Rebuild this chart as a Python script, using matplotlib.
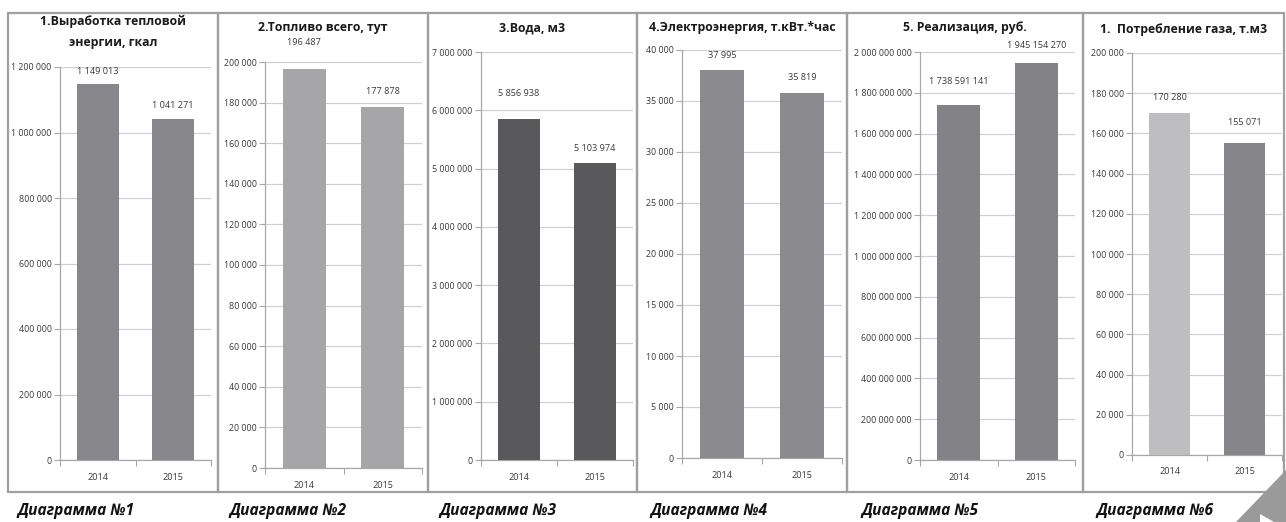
import matplotlib
matplotlib.use('Agg')
import matplotlib.pyplot as plt
from matplotlib.patches import Rectangle, Polygon
from matplotlib.ticker import FuncFormatter, MultipleLocator

plt.rcParams['font.family'] = ['Open Sans', 'DejaVu Sans']

years = ['2014', '2015']

titles = ['1.Выработка тепловой\nэнергии, гкал',
          '2.Топливо всего, тут',
          '3.Вода, м3',
          '4.Электроэнергия, т.кВт.*час',
          '5. Реализация, руб.',
          '1.  Потребление газа, т.м3']

heat = [1149013, 1041271]
fuel = [196487, 177878]
water = [5856938, 5103974]
power = [37995, 35819]
sales = [1738591141, 1945154270]
gas = [170280, 155071]
series = [heat, fuel, water, power, sales, gas]

y_max = [1200000, 200000, 7000000, 40000, 2000000000, 200000]
y_step = [200000, 20000, 1000000, 5000, 200000000, 20000]

bar_colors = [['#87878b'] * 2, ['#a6a6a9'] * 2, ['#59595b'] * 2,
              ['#8b8b8f'] * 2, ['#838387'] * 2, ['#bebec1', '#86868a']]

# distance of value label above the bar, px
label_gap = [[8, 9], [22, 11], [21, 10], [10, 11], [19, 13], [11, 16]]

captions = ['Диаграмма №1', 'Диаграмма №2', 'Диаграмма №3',
            'Диаграмма №4', 'Диаграмма №5', 'Диаграмма №6']

W, H = 1286, 522

# layout in pixels: (axis left, axis right, top gridline y, zero y)
axes_px = [(60, 211, 67, 460), (265, 422, 62, 468), (481, 633, 52, 460),
           (682, 842, 50, 458), (920, 1075, 52, 460), (1132, 1282, 53, 455)]
boxes_px = [(8, 218), (218, 428), (428, 637), (637, 847), (847, 1083), (1083, 1284)]
title_y = [32, 28, 28, 28, 28, 30]
caption_x = [76, 288, 498, 709, 920, 1155]

fig = plt.figure(figsize=(W / 100, H / 100), dpi=100)


def fmt(v, pos):
    return f'{int(v):,}'.replace(',', ' ')


for i in range(6):
    x0, x1, yt, y0 = axes_px[i]
    ax = fig.add_axes([x0 / W, (H - y0) / H, (x1 - x0) / W, (y0 - yt) / H])
    ax.bar([0, 1], series[i], width=0.55, color=bar_colors[i], zorder=3)
    ax.set_xlim(-0.5, 1.5)
    ax.set_ylim(0, y_max[i])
    ax.yaxis.set_major_locator(MultipleLocator(y_step[i]))
    ax.yaxis.set_major_formatter(FuncFormatter(fmt))
    ax.grid(axis='y', color='#d0d0d0', linewidth=0.9, zorder=0)
    for s in ['top', 'right']:
        ax.spines[s].set_visible(False)
    for s in ['left', 'bottom']:
        ax.spines[s].set_color('#a8a8a8')
        ax.spines[s].set_linewidth(0.9)
    ax.set_xticks([-0.5, 0.5, 1.5])
    ax.set_xticklabels([])
    ax.set_xticks([0, 1], minor=True)
    ax.set_xticklabels(years, minor=True)
    ax.tick_params(axis='x', which='major', length=4, color='#a8a8a8', direction='out')
    ax.tick_params(axis='x', which='minor', length=0, pad=9, labelsize=6.6, labelcolor='#3a3a3a')
    ax.tick_params(axis='y', length=4, color='#a8a8a8', labelsize=6.4, labelcolor='#3a3a3a', pad=2)
    for j, v in enumerate(series[i]):
        ax.annotate(fmt(v, None), (j, v), xytext=(0, label_gap[i][j] * 0.72),
                    textcoords='offset points', ha='center', va='bottom',
                    fontsize=6.6, color='#3a3a3a')
    bx0, bx1 = boxes_px[i]
    fig.add_artist(Rectangle((bx0 / W, (H - 492) / H), (bx1 - bx0) / W, (492 - 13) / H,
                             transform=fig.transFigure, fill=False,
                             edgecolor='#a0a0a0', linewidth=1.6))
    fig.text((bx0 + bx1) / 2 / W, 1 - title_y[i] / H, titles[i], ha='center', va='center',
             fontsize=8.8, fontweight='bold', color='#1a1a1a', linespacing=1.75)
    fig.text(caption_x[i] / W, 1 - 511 / H, captions[i], ha='center', va='center',
             fontsize=11.2, fontweight='bold', fontstyle='italic', color='#111111')

# page corner mark
fig.add_artist(Polygon([(1236 / W, 0), (1, 52 / H), (1, 0)], closed=True,
                       transform=fig.transFigure, facecolor='#9a9a9a', edgecolor='none'))
fig.add_artist(Polygon([(1260 / W, 8 / H), (1274 / W, 0), (1260 / W, 0)], closed=True,
                       transform=fig.transFigure, facecolor='white', edgecolor='none'))

fig.savefig('out.png', dpi=100)
